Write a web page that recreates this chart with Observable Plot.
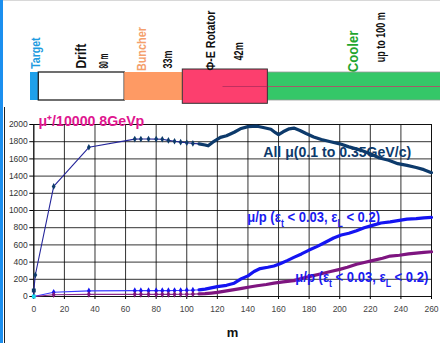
<!DOCTYPE html>
<html><head><meta charset="utf-8">
<script src="https://cdn.jsdelivr.net/npm/d3@7"></script>
<script src="https://cdn.jsdelivr.net/npm/@observablehq/plot@0.6"></script>
<style>
body{margin:0;background:#fff;}
#wrap{position:relative;width:440px;height:343px;overflow:hidden;background:#fff;}
#topline{position:absolute;left:0;top:0;width:440px;height:1px;background:#d8d8d8;}
#stripe{position:absolute;left:0;top:0;width:3px;height:343px;background:#1b8fef;}
#topdiv{position:absolute;left:0;top:0;}
#chart{position:absolute;left:0;top:107px;}
#box{position:absolute;left:4px;top:107px;width:1px;height:236px;background:#222;}
</style></head><body>
<div id="wrap"><div id="topdiv"></div><div id="chart"></div><div id="topline"></div><div id="stripe"></div><div id="box"></div></div>
<script>
// ---- schematic (diagram units) ----
const sections      = ["Target", "Drift", "Buncher", "Rotator", "Cooler"];
const sectionStart  = [0, 1, 11.35, 18.35, 28.6];
const sectionEnd    = [1, 11.35, 18.35, 28.6, 50];
const sectionName   = ["Target", "Drift", "Buncher", "Φ-E Rotator", "Cooler"];
const nameAt        = [0.6, 6.2, 13.45, 21.7, 38.9];
const nameBase      = [1.13, 1.14, 1.05, 1.07, 1.01];
const sectionLength = ["", "80 m", "33m", "42m", "up to 100 m"];
const lengthAt      = [0, 8.9, 16.6, 25.2, 42.2];
const lengthBase    = [0, 1.14, 1.14, 1.43, 1.37];
const coolerAxisFrom = 23.2;

// ---- chart data ----
const xTicks = [0,20,40,60,80,100,120,140,160,180,200,220,240,260];
const yTicks = [0,200,400,600,800,1000,1200,1400,1600,1800,2000];

const allMuM = [0,0,1,13,36,66,70,75,80,84,88,92,96,100,104,108,112,114,117,122,126,131,135,140,146,150,155,158,160,163,167,170,174,178,183,188,194,200,206,213,220,226,232,238,244,250,255,260];
const allMuV = [0,70,250,1280,1735,1830,1832,1832,1830,1828,1815,1805,1795,1788,1780,1775,1762,1752,1795,1850,1870,1910,1950,1975,1980,1965,1945,1905,1882,1915,1950,1958,1930,1895,1855,1825,1800,1775,1740,1705,1660,1610,1585,1545,1525,1500,1475,1440];

const bluM = [0,13,36,66,70,75,80,84,88,92,96,100,104,108,112,116,120,126,131,135,140,144,148,153,157,161,166,170,175,180,185,190,196,201,206,211,216,222,227,233,239,244,250,255,260];
const bluV = [0,50,65,68,68,68,68,68,68,70,70,72,74,78,85,100,115,130,155,200,240,290,325,340,355,380,420,455,495,540,580,625,680,715,735,765,800,830,855,868,885,900,905,915,920];

const purM = [0,13,36,66,70,75,80,84,88,92,96,100,104,108,112,116,120,126,131,136,141,146,152,157,163,170,176,182,188,194,200,205,211,216,222,228,233,239,245,250,255,260];
const purV = [0,20,25,25,25,25,25,25,25,25,26,27,28,30,33,40,48,65,80,95,110,125,140,155,170,185,215,240,265,290,315,340,375,395,420,445,470,480,495,505,512,520];

const seriesNames = ["All μ(0.1 to 0.35GeV/c)", "μ/p (εt < 0.03, εL < 0.2)", "μ/p (εt < 0.03, εL < 0.2) "];
const titleText = "μ⁺/10000 8GeVp";
const xLabel = "m";

// ---- styles ----
const colorOf = {Target:"#1fa0ea", Drift:"#ffffff", Buncher:"#fe9a64", Rotator:"#fc2f62", Cooler:"#35c768"};
const labelColor = {Target:"#1e9be0", Drift:"#111", Buncher:"#f4a06c", Rotator:"#111", Cooler:"#1fa62e"};
const font = "'Liberation Sans',Arial,sans-serif";
// condensed (narrow) text widths, in px
const textWidth = {"Target":31.5, "Drift":25, "80 m":15, "Buncher":44, "33m":18, "Φ-E Rotator":60, "42m":18.3, "Cooler":41.7, "up to 100 m":50,
  "μ⁺/10000 8GeVp":106, "All μ(0.1 to 0.35GeV/c)":148, "μ/p (εt < 0.03, εL < 0.2)":133, "μ/p (εt < 0.03, εL < 0.2) ":133};

const sec = sections.map((s,i)=>({s, x1:sectionStart[i], x2:sectionEnd[i], name:sectionName[i], nameAt:nameAt[i], nameBase:nameBase[i], len:sectionLength[i], lenAt:lengthAt[i], lenBase:lengthBase[i]}));

// condense texts horizontally (along their direction) after they are in the page
function narrowTexts(svg){
  d3.select(svg).selectAll("text").each(function(){
    const raw = this.textContent;
    const w = textWidth[raw];
    if (w === undefined) return;
    const el = d3.select(this);
    if (raw.indexOf("εt") >= 0 && raw.indexOf("εL") >= 0) {
      const parts = [["μ/p (ε",false],["t",true],[" < 0.03, ε",false],["L",true],[" < 0.2)",false]];
      el.text(null);
      parts.forEach(([s,sub])=>{
        const ts = el.append("tspan").text(s);
        if (sub) ts.attr("baseline-shift","sub").attr("font-size","10");
      });
    }
    const natural = this.getComputedTextLength();
    const k = w / natural;
    const tr = el.attr("transform") || "";
    el.attr("transform", (tr + ` scale(${k},1)`).trim());
  });
}

const topPlot = Plot.plot({
  width: 440, height: 107,
  marginLeft: 30, marginRight: 0, marginTop: 72, marginBottom: 7,
  x: {domain:[0,49.4], axis:null},
  y: {domain:[0,1], axis:null},
  style:{overflow:"visible", fontFamily:font},
  marks: [
    Plot.rect(sec.filter(d=>d.s!=="Rotator" && d.s!=="Cooler"), {x1:"x1", x2:"x2", y1:0, y2:1, fill:d=>colorOf[d.s], stroke:d=>d.s==="Drift"?"#222":"none", strokeWidth:1.3}),
    Plot.rect(sec.filter(d=>d.s==="Cooler"), {x1:"x1", x2:"x2", y1:0, y2:1, fill:d=>colorOf[d.s], stroke:"#9a9a9a", strokeWidth:0.8}),
    Plot.ruleY([0.5], {x1:coolerAxisFrom, x2:50, stroke:"#c2406a", strokeWidth:0.8}),
    Plot.rect(sec.filter(d=>d.s==="Rotator"), {x1:"x1", x2:"x2", y1:0, y2:1, insetTop:-3, insetBottom:-3.3, fill:d=>colorOf[d.s], fillOpacity:0.92, stroke:"#333", strokeWidth:1}),
    Plot.ruleY([0.5], {x1:coolerAxisFrom, x2:sectionEnd[3], stroke:"#b03060", strokeWidth:0.8}),
    Plot.text(sec, {x:"nameAt", y:"nameBase", text:"name", rotate:-90, textAnchor:"start", lineAnchor:"middle", fill:d=>labelColor[d.s], fontWeight:"bold", fontSize:d=>d.s==="Cooler"?15:(d.s==="Drift"?14:13)}),
    Plot.text(sec.filter(d=>d.len), {x:"lenAt", y:"lenBase", text:"len", rotate:-90, textAnchor:"start", lineAnchor:"middle", fill:"#111", fontWeight:"bold", fontSize:12})
  ]
});
document.getElementById("topdiv").appendChild(topPlot);
narrowTexts(topPlot);

const rows = [];
allMuM.forEach((m,i)=>rows.push({m, v:allMuV[i], s:0}));
bluM.forEach((m,i)=>rows.push({m, v:bluV[i], s:1}));
purM.forEach((m,i)=>rows.push({m, v:purV[i], s:2}));
const lineCol = ["#24259a", "#3a3aff", "#8a2a8a"];
const thickCol = ["#0d3a6b", "#1414f2", "#7e1580"];
const markCol = ["#0d3a6b", "#1414f2", "#7e1580"];

const labels = [
  {t:seriesNames[0], m:150, v:1678, c:"#0d3a6b"},
  {t:seriesNames[1], m:139.5, v:922, c:"#1a1af0"},
  {t:seriesNames[2], m:171, v:224, c:"#1a1af0"}
];

const chart = Plot.plot({
  width: 440, height: 236,
  marginLeft: 33.3, marginRight: 9, marginTop: 17, marginBottom: 47,
  x: {domain:[0,260], label:null},
  y: {domain:[0,2000], label:null, tickFormat:d3.format("d")},
  style:{overflow:"visible", fontFamily:font},
  marks: [
    Plot.gridX(xTicks, {stroke:"#000", strokeOpacity:0.8, strokeWidth:1}),
    Plot.gridY(yTicks, {stroke:"#000", strokeOpacity:0.8, strokeWidth:1}),
    Plot.frame({stroke:"#111", strokeWidth:1}),
    Plot.axisX(xTicks, {tickSize:3, tickPadding:6, fontSize:8.5, fill:"#444", stroke:"#000"}),
    Plot.axisY(yTicks, {tickSize:4, tickPadding:2, fontSize:8.5, fill:"#333", stroke:"#000", tickFormat:d3.format("d")}),
    Plot.axisX({ticks:[], label:xLabel, labelAnchor:"center", labelArrow:"none", labelOffset:40, fontSize:13, fontWeight:"bold", fill:"#111", dx:33}),
    Plot.line(rows, {x:"m", y:"v", z:"s", stroke:d=>lineCol[d.s], strokeWidth:1.1}),
    Plot.line(rows.filter(d=>d.m>=106), {x:"m", y:"v", z:"s", stroke:d=>thickCol[d.s], strokeWidth:3.2}),
    Plot.dot(rows.filter(d=>d.m>0 && d.m<108), {x:"m", y:"v", fill:d=>markCol[d.s], r:2, symbol:"diamond"}),
    Plot.dot(rows.filter(d=>d.m===0 && d.v>0), {x:"m", y:"v", fill:"#0d3a6b", r:2.2, symbol:"square"}),
    Plot.dot(rows.filter(d=>d.m===0 && d.v===0 && d.s===0), {x:"m", y:"v", fill:"#16d8ee", r:2.2, symbol:"square"}),
    Plot.text([titleText], {x:3, y:2000, text:d=>d, textAnchor:"start", lineAnchor:"bottom", dy:1, fill:"#e0168f", fontWeight:"bold", fontSize:14}),
    Plot.text(labels, {x:"m", y:"v", text:"t", textAnchor:"start", lineAnchor:"middle", fill:"c", fontWeight:"bold", fontSize:15})
  ]
});
document.getElementById("chart").appendChild(chart);
narrowTexts(chart);
</script>
</body></html>
